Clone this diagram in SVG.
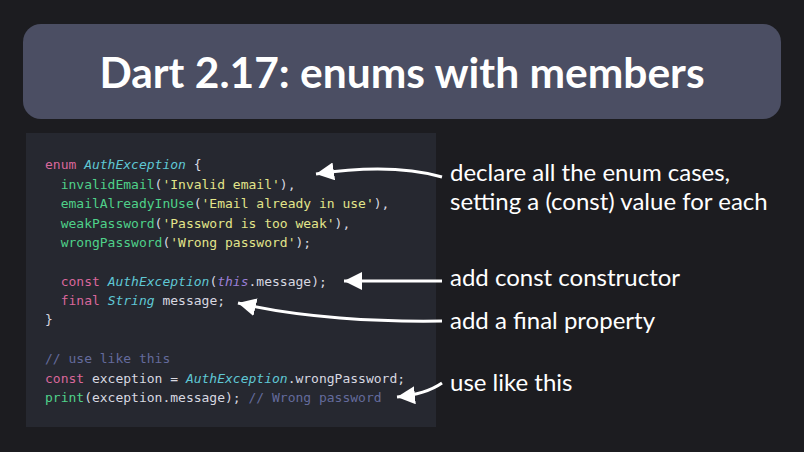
<svg xmlns="http://www.w3.org/2000/svg" width="804" height="452" viewBox="0 0 804 452">
<style>
.c{font-family:"DejaVu Sans Mono","Liberation Mono",monospace;font-size:13px;fill:#d8d8e0;white-space:pre}
.k{fill:#d9679b}.t{fill:#5fc7d4;font-style:italic}.g{fill:#4fd18a}.s{fill:#e2e58a}.m{fill:#646b9c}.p{fill:#9a7fd6;font-style:italic}
.l{font-family:Lato,"Open Sans",sans-serif;font-size:24px;fill:#fff}
.a{fill:none;stroke:#fff;stroke-width:3}
</style>
<defs><marker id="h" markerWidth="6" markerHeight="6" refX="6" refY="3" orient="auto" markerUnits="strokeWidth"><path d="M0,0 L6,3 L0,6 z" fill="#fff"/></marker></defs>
<rect width="804" height="452" fill="#1c1c20"/>
<g id="title"><rect x="23" y="24" width="758" height="95" rx="18" fill="#4b4e63"/>
<text x="402" y="88" text-anchor="middle" font-family="Lato,'Open Sans',sans-serif" font-weight="bold" font-size="42.5" fill="#fff">Dart 2.17: enums with members</text></g>
<g id="code"><rect x="26" y="133" width="410" height="294" fill="#262830"/>
<text class="c" x="45" y="169"><tspan class="k">enum</tspan> <tspan class="t">AuthException</tspan> {</text>
<text class="c" x="45" y="189">  <tspan class="g">invalidEmail</tspan>(<tspan class="s">'Invalid email'</tspan>),</text>
<text class="c" x="45" y="208">  <tspan class="g">emailAlreadyInUse</tspan>(<tspan class="s">'Email already in use'</tspan>),</text>
<text class="c" x="45" y="228">  <tspan class="g">weakPassword</tspan>(<tspan class="s">'Password is too weak'</tspan>),</text>
<text class="c" x="45" y="247">  <tspan class="g">wrongPassword</tspan>(<tspan class="s">'Wrong password'</tspan>);</text>
<text class="c" x="45" y="286">  <tspan class="k">const</tspan> <tspan class="t">AuthException</tspan>(<tspan class="p">this</tspan>.message);</text>
<text class="c" x="45" y="305">  <tspan class="k">final</tspan> <tspan class="t">String</tspan> message;</text>
<text class="c" x="45" y="324">}</text>
<text class="c m" x="45" y="363">// use like this</text>
<text class="c" x="45" y="383"><tspan class="k">const</tspan> exception = <tspan class="t">AuthException</tspan>.wrongPassword;</text>
<text class="c" x="45" y="402"><tspan class="g">print</tspan>(exception.message); <tspan class="m">// Wrong password</tspan></text>
</g>
<g id="connectors">
<path class="a" marker-end="url(#h)" d="M442,177 C410,168 370,166 316,174"/>
<path class="a" marker-end="url(#h)" d="M442,281 L344,281"/>
<path class="a" marker-end="url(#h)" d="M442,321 C380,322 300,318 238,303"/>
<path class="a" marker-end="url(#h)" d="M442,383 C432,390 418,395 397,397"/>
</g>
<g id="labels">
<text class="l" x="450" y="181">declare all the enum cases,</text>
<text class="l" x="450" y="210">setting a (const) value for each</text>
<text class="l" x="450" y="286">add const constructor</text>
<text class="l" x="450" y="329">add a final property</text>
<text class="l" x="450" y="391">use like this</text>
</g>
</svg>
